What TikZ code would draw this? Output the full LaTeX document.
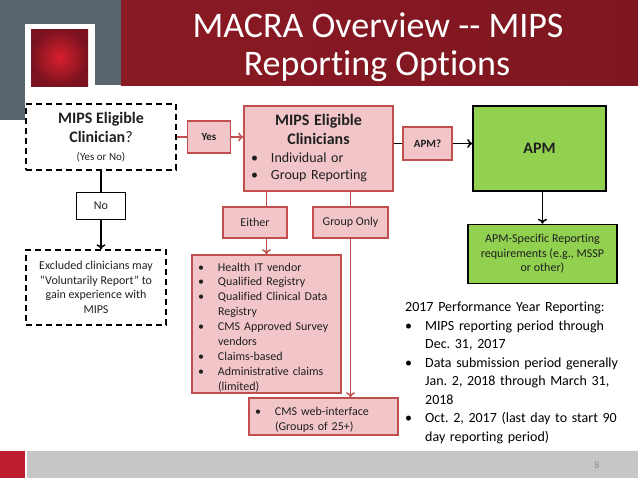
\documentclass[tikz,border=0pt]{standalone}
\usepackage{fontspec}
\setmainfont{Carlito}[Ligatures=NoCommon]
\usetikzlibrary{positioning, arrows.meta, calc}

\definecolor{headgrey}{HTML}{58656E}
\definecolor{headdark}{HTML}{8A1A24}
\definecolor{headbright}{HTML}{C8141E}
\definecolor{headdarkr}{HTML}{7E1620}
\definecolor{sqbright}{HTML}{D9202C}
\definecolor{sqdark}{HTML}{7A1220}
\definecolor{pinkfill}{HTML}{F2C6C8}
\definecolor{pinkline}{HTML}{C0504D}
\definecolor{apmgreen}{HTML}{92D050}
\definecolor{footgrey}{HTML}{C6C6C6}
\definecolor{footred}{HTML}{BE1E2D}

\tikzset{arr/.style={-{>[length=5pt, width=9pt]}}}
\newcommand{\bitem}[1]{\par\leftskip=20pt\noindent\llap{\makebox[20pt][l]{\textbullet}}#1\par}
\frenchspacing

\begin{document}
\begin{tikzpicture}[x=1pt, y=-1pt,
      every node/.style={align=center, inner sep=0pt, text=black!88,
        font=\fontsize{12}{14.6}\selectfont},
      qbox/.style={draw=black, line width=1.4pt, dash pattern=on 6pt off 4pt},
      plainbox/.style={draw=black, line width=1.2pt},
      pinkbox/.style={draw=pinkline, fill=pinkfill, line width=1.5pt},
      greenbox/.style={draw=black, fill=apmgreen, line width=1.5pt},
      listbox/.style={pinkbox, align=left, inner xsep=6pt},
      redline/.style={draw=pinkline, line width=1.5pt},
      blackline/.style={draw=black, line width=1.5pt},
  ]
      \useasboundingbox (0,0) rectangle (638,479);

      % Header band
      \fill[headgrey] (0,0) rectangle (121,85);
      \shade[left color=headdark, middle color=headbright, right color=headdarkr]
        (121,0) rectangle (638,85);
      \fill[headgrey] (0,85) rectangle (25,120);
      \fill[white] (25,24) rectangle (95,86);
      \shade[inner color=sqbright, outer color=sqdark] (31,29) rectangle (88,86);
      \node[anchor=base, text=white, font=\fontsize{36}{40}\selectfont] (title1) at (378,37) {MACRA Overview -{}- MIPS};
      \node[anchor=base, text=white, font=\fontsize{36}{40}\selectfont] (title2) at (377,75) {Reporting Options};

      % Footer band
      \fill[footred] (0,451) rectangle (25,478);
      \fill[footgrey] (27,451) rectangle (638,478);
      \node[text=black!45, font=\fontsize{10}{12}\selectfont] (pagenum) at (597,465) {8};

      % Left column: eligibility question
      \node[qbox, minimum width=150pt, minimum height=66pt, font=\fontsize{16}{19}\selectfont\bfseries] (elig) at (101,137)
        {MIPS Eligible\\Clinician\textmd{?}\\[-1pt]{\fontsize{11}{13}\selectfont\mdseries (Yes or No)}};
      \node[plainbox, minimum width=49pt, minimum height=27pt, below=21pt of elig] (no) {No};
      \node[qbox, minimum width=140pt, minimum height=75pt] (excl) at (96,287.5)
        {Excluded clinicians may\\“Voluntarily Report” to\\gain experience with\\MIPS};

      % Middle column: MIPS reporting
      \node[pinkbox, minimum width=43pt, minimum height=32pt, right=10pt of elig, font=\fontsize{11}{13}\selectfont\bfseries] (yes) {Yes};
      \node[pinkbox, align=left, inner xsep=7pt, text width=135pt, minimum height=85pt,
        font=\fontsize{14}{17.5}\selectfont] (mips) at (318.5,148.5)
        {{\centering\fontsize{16}{19}\selectfont\bfseries MIPS Eligible\\Clinicians\par}%
         \bitem{Individual or}\bitem{Group Reporting}};
      \node[pinkbox, minimum width=64pt, minimum height=31pt] (either) at (255,222.5) {Either};
      \node[pinkbox, minimum width=75pt, minimum height=31pt] (group) at (350.5,222.5) {Group Only};
      \node[listbox, text width=137pt, minimum height=138pt, font=\fontsize{12}{14.9}\selectfont] (health) at (266.5,324)
        {\bitem{Health IT vendor}\bitem{Qualified Registry}%
         \bitem{Qualified Clinical Data\newline Registry}%
         \bitem{CMS Approved Survey\newline vendors}%
         \bitem{Claims-based}\bitem{Administrative claims\newline (limited)}};
      \node[listbox, text width=137pt, minimum height=37pt, font=\fontsize{12}{14.9}\selectfont] (cms) at (323.5,416.5)
        {\bitem{CMS web-interface\newline (Groups of 25+)}};

      % Right column: APM
      \node[pinkbox, minimum width=49pt, minimum height=33pt, font=\fontsize{11}{13}\selectfont\bfseries] (apmq) at (427.5,143.5) {APM?};
      \node[greenbox, minimum width=133pt, minimum height=85pt, font=\fontsize{16}{19}\selectfont\bfseries] (apm) at (539.5,148.5) {APM};
      \node[greenbox, minimum width=149pt, minimum height=59pt, below=32pt of apm, xshift=3pt] (spec)
        {APM-Specific Reporting\\requirements (e.g., MSSP\\or other)};

      % Performance year notes
      \node[anchor=north west, align=left, text width=230pt, text=black,
        font=\fontsize{14}{18.5}\selectfont] (perf) at (405,302)
        {2017 Performance Year Reporting:%
         \bitem{MIPS reporting period through\newline Dec. 31, 2017}%
         \bitem{Data submission period generally\newline Jan. 2, 2018 through March 31,\newline 2018}%
         \bitem{Oct. 2, 2017 (last day to start 90\newline day reporting period)}};

      % Connectors: eligibility
      \draw[blackline] (elig) -- (no);
      \draw[blackline, arr] (no.south) -- (no.south |- excl.north);
      \draw[redline] (elig.east) -- (yes.west);
      \draw[redline, arr] (yes.east) -- (yes.east -| mips.west);

      % Connectors: reporting routes
      \draw[redline] (mips.south -| health.north) -- (either.north -| health.north);
      \draw[redline, arr] (either.south -| health.north) -- (health.north);
      \draw[redline] (mips.south -| group.north) -- (group.north);
      \draw[redline, arr] (group.south) -- (group.south |- cms.north);

      % Connectors: APM
      \draw[blackline] (apmq.west -| mips.east) -- (apmq.west);
      \draw[blackline, arr] (apmq.east) -- (apmq.east -| apm.west);
      \draw[blackline, arr] (spec.north |- apm.south) -- (spec.north);

\end{tikzpicture}
\end{document}
